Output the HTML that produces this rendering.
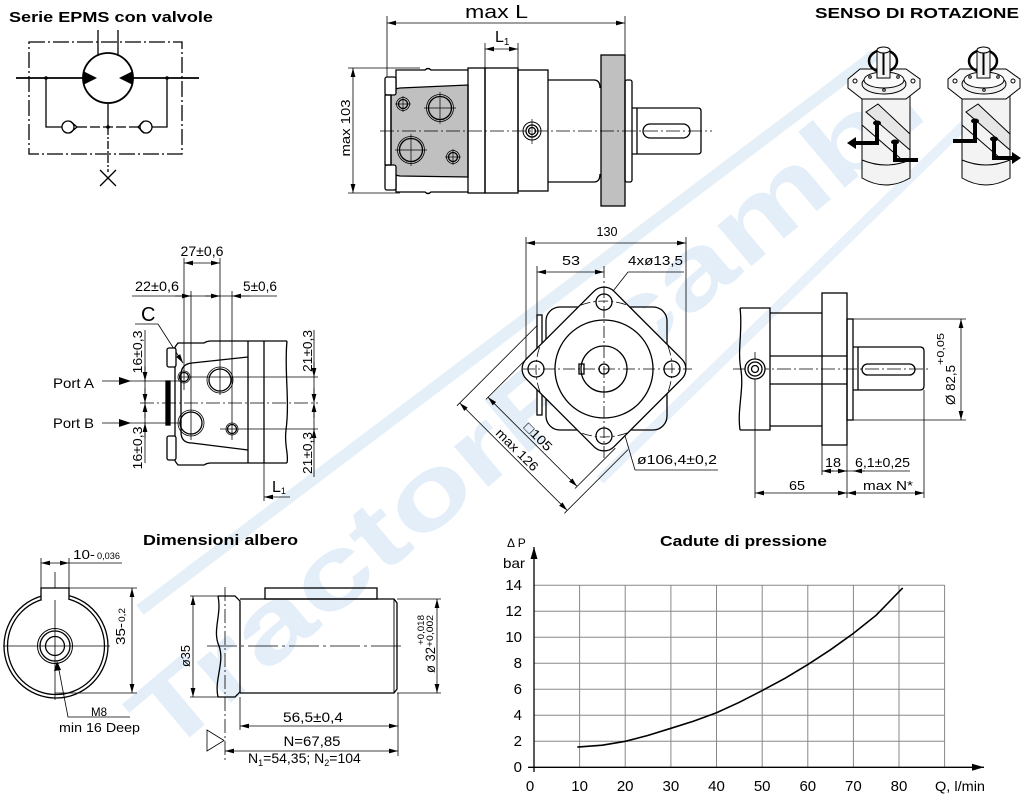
<!DOCTYPE html>
<html><head><meta charset="utf-8"><style>
html,body{margin:0;padding:0;background:#fff;}
svg{display:block;}
text{font-family:"Liberation Sans",sans-serif;fill:#000;}
</style></head><body>
<svg width="1024" height="798" viewBox="0 0 1024 798" xmlns="http://www.w3.org/2000/svg">
<defs>
<marker id="a" markerUnits="userSpaceOnUse" markerWidth="9" markerHeight="6" refX="9" refY="3" orient="auto-start-reverse"><path d="M0,0.6 L9,3 L0,5.4z" fill="#000"/></marker>
<marker id="b" markerUnits="userSpaceOnUse" markerWidth="12" markerHeight="8" refX="12" refY="4" orient="auto"><path d="M0,0.5 L12,4 L0,7.5z" fill="#000"/></marker>
</defs>
<rect width="1024" height="798" fill="#fff"/>

<!-- watermark -->
<g opacity="0.9">
<line x1="140" y1="610" x2="875" y2="55" stroke="#e2eef8" stroke-width="12"/>
<line x1="600" y1="480" x2="1000" y2="90" stroke="#e6f0f9" stroke-width="10"/>
<text transform="translate(165,758) rotate(-40)" font-size="100" font-weight="bold" textLength="1000" lengthAdjust="spacingAndGlyphs" style="fill:#e0edf8">TractorRicambi</text>
</g>

<!-- ===== Titles ===== -->
<text x="9" y="22" font-size="15" font-weight="bold" textLength="204" lengthAdjust="spacingAndGlyphs">Serie EPMS con valvole</text>
<text x="815" y="18" font-size="15" font-weight="bold" textLength="204" lengthAdjust="spacingAndGlyphs">SENSO DI ROTAZIONE</text>
<text x="143" y="545" font-size="15" font-weight="bold" textLength="155" lengthAdjust="spacingAndGlyphs">Dimensioni albero</text>
<text x="660" y="546" font-size="15" font-weight="bold" textLength="167" lengthAdjust="spacingAndGlyphs">Cadute di pressione</text>

<!-- ===== Valve schematic ===== -->
<g stroke="#000" stroke-width="1.3" fill="none">
<rect x="29" y="42" width="153" height="112" stroke-dasharray="16,3,2,3"/>
<line x1="98" y1="30" x2="98" y2="56"/>
<line x1="118" y1="30" x2="118" y2="56"/>
<circle cx="108" cy="78" r="25" stroke-width="1.8"/>
<line x1="16" y1="78" x2="83" y2="78" stroke-width="1.8"/>
<line x1="133" y1="78" x2="199" y2="78" stroke-width="1.8"/>
<polyline points="46,78 46,127 62,127"/>
<circle cx="68" cy="127" r="6"/>
<polyline points="70,121 77,127 70,133"/>
<line x1="77" y1="127" x2="139" y2="127" stroke-dasharray="10,3"/>
<circle cx="146" cy="127" r="6"/>
<polyline points="144,121 138,127 144,133"/>
<polyline points="152,127 167,127 167,78"/>
<line x1="108" y1="103" x2="108" y2="127"/>
<line x1="108" y1="127" x2="108" y2="172" stroke-dasharray="8,2,2,2"/>
<path d="M100,170 L116,186 M116,170 L100,186"/>
</g>
<g fill="#000">
<polygon points="83,71 97,78 83,85"/>
<polygon points="133,71 119,78 133,85"/>
<circle cx="46" cy="78" r="1.8"/><circle cx="167" cy="78" r="1.8"/><circle cx="108" cy="127" r="1.8"/>
</g>

<!-- ===== Top side view ===== -->
<g stroke="#000" stroke-width="0.8" fill="none">
<line x1="387" y1="16" x2="387" y2="80"/>
<line x1="625" y1="16" x2="625" y2="56"/>
<line x1="387" y1="23" x2="625" y2="23" marker-start="url(#a)" marker-end="url(#a)"/>
<line x1="485" y1="43" x2="485" y2="68"/>
<line x1="518" y1="43" x2="518" y2="68"/>
<line x1="485" y1="49" x2="518" y2="49" marker-start="url(#a)" marker-end="url(#a)"/>
<line x1="348" y1="68" x2="420" y2="68"/>
<line x1="348" y1="193" x2="400" y2="193"/>
<line x1="353" y1="68" x2="353" y2="193" marker-start="url(#a)" marker-end="url(#a)"/>
</g>
<text x="465" y="18" font-size="18" textLength="63" lengthAdjust="spacingAndGlyphs">max L</text>
<text x="495" y="42" font-size="16">L<tspan font-size="10" dy="3">1</tspan></text>
<text transform="translate(350,128) rotate(-90)" font-size="13" text-anchor="middle" textLength="57" lengthAdjust="spacingAndGlyphs">max 103</text>
<g stroke="#000" stroke-width="1.3" fill="none">
<path d="M391,97 Q391,89 400,88 L468,85 L468,177 L400,176 Q391,175 391,168 Z" fill="#c0c0c0"/>
<path d="M396,88 L396,70 L425,70 Q428,67 431,70 L468,70"/>
<path d="M396,176 L396,192 L425,192 Q428,195 431,192 L468,192"/>
<rect x="385" y="77" width="11" height="18" rx="2" fill="#fff"/>
<rect x="385" y="165" width="11" height="25" rx="2" fill="#fff"/>
<rect x="385" y="95" width="6" height="70"/>
<rect x="468" y="68" width="17" height="125"/>
<rect x="485" y="68" width="33" height="125"/>
<rect x="518" y="70" width="30" height="121"/>
<path d="M548,80 H594 Q600,80 600,88"/>
<path d="M548,182 H594 Q600,182 600,174"/>
<rect x="601" y="55" width="24" height="151" fill="#c0c0c0"/>
<rect x="625" y="80" width="7" height="102" rx="2"/>
<path d="M632,108 H698 Q701,108 701,111 V151 Q701,154 698,154 H632"/>
<line x1="637" y1="108" x2="637" y2="154"/>
<rect x="643" y="124" width="47" height="14" rx="7"/>
<circle cx="403" cy="104" r="4.5"/><circle cx="403" cy="104" r="6.5" stroke-width="0.8"/>
<circle cx="440" cy="108" r="11.5"/><circle cx="440" cy="108" r="13.5" stroke-width="0.8"/>
<circle cx="411" cy="150" r="11.5"/><circle cx="411" cy="150" r="13.5" stroke-width="0.8"/>
<circle cx="453" cy="157" r="4.5"/><circle cx="453" cy="157" r="6.5" stroke-width="0.8"/>
<circle cx="532" cy="131" r="9" stroke-width="1"/><circle cx="532" cy="131" r="6"/><circle cx="532" cy="131" r="3.5"/>
</g>
<g stroke="#000" stroke-width="0.7">
<line x1="395" y1="104" x2="411" y2="104"/><line x1="403" y1="96" x2="403" y2="112"/>
<line x1="424" y1="108" x2="456" y2="108"/><line x1="440" y1="92" x2="440" y2="124"/>
<line x1="395" y1="150" x2="427" y2="150"/><line x1="411" y1="134" x2="411" y2="166"/>
<line x1="445" y1="157" x2="461" y2="157"/><line x1="453" y1="149" x2="453" y2="165"/>
<line x1="532" y1="119" x2="532" y2="144"/>
<line x1="380" y1="131" x2="712" y2="131" stroke-dasharray="14,3,2,3"/>
</g>

<!-- ===== Rotation pictures ===== -->
<g id="mot" stroke="#000" stroke-width="1">
<path d="M862,96 L862,178 Q886,192 910,178 L910,96 Z" fill="#f3f3f3"/>
<path d="M862,160 Q886,170 910,160" fill="none"/>
<path d="M866,112 L878,104 L910,134 L910,150 Z" fill="#e6e6e6"/>
<path d="M862,125 L900,158" fill="none"/>
<polygon points="848,79 860,69 906,69 920,79 920,88 906,99 862,99 848,88" fill="#f8f8f8"/>
<ellipse cx="884" cy="84" rx="22" ry="10" fill="#f0f0f0"/>
<ellipse cx="884" cy="80" rx="20" ry="8" fill="#fafafa"/>
<circle cx="855" cy="81" r="2" fill="#fff"/><circle cx="913" cy="81" r="2" fill="#fff"/>
<circle cx="870" cy="77" r="1.3" fill="#fff"/><circle cx="898" cy="77" r="1.3" fill="#fff"/><circle cx="884" cy="90" r="1.3" fill="#fff"/>
<ellipse cx="883" cy="61" rx="14" ry="11" fill="none" stroke-width="2.5"/>
<rect x="877" y="50" width="13" height="28" fill="#f4f4f4"/>
<ellipse cx="883.5" cy="50" rx="6.5" ry="3" fill="#fafafa"/>
<line x1="883.5" y1="53" x2="883.5" y2="75" stroke-width="2"/>
</g>
<use href="#mot" x="100" y="0"/>
<g stroke="#000" stroke-width="4" fill="none">
<path d="M877,124 V143 H855"/>
<path d="M895,144 V160 H918"/>
<path d="M975,122 V141 H953"/>
<path d="M994,140 V158 H1014"/>
</g>
<g fill="#000">
<polygon points="847,143 856,137 856,149"/>
<polygon points="1021,158 1012,152 1012,164"/>
<ellipse cx="877" cy="123" rx="4" ry="2.5"/><ellipse cx="895" cy="142" rx="4" ry="2.5"/>
<ellipse cx="975" cy="121" rx="4" ry="2.5"/><ellipse cx="994" cy="139" rx="4" ry="2.5"/>
</g>

<!-- ===== Side view with ports ===== -->
<g stroke="#000" stroke-width="0.8" fill="none">
<line x1="184" y1="258" x2="184" y2="390"/>
<line x1="220" y1="258" x2="220" y2="395"/>
<line x1="184" y1="263" x2="220" y2="263" marker-start="url(#a)" marker-end="url(#a)"/>
<line x1="132" y1="296" x2="277" y2="296"/>
<line x1="175" y1="296" x2="191" y2="296" marker-end="url(#a)"/>
<line x1="205" y1="296" x2="220" y2="296" marker-end="url(#a)"/>
<line x1="250" y1="296" x2="232" y2="296" marker-end="url(#a)"/>
<line x1="191" y1="291" x2="191" y2="440"/>
<line x1="232" y1="291" x2="232" y2="440"/>
<line x1="135" y1="324" x2="158" y2="324"/>
<line x1="158" y1="324" x2="183" y2="363" marker-end="url(#a)"/>
<line x1="180" y1="377" x2="318" y2="377"/>
<line x1="220" y1="429" x2="318" y2="429"/>
<line x1="140" y1="403" x2="318" y2="403" stroke-dasharray="14,3,2,3"/>
<line x1="314" y1="330" x2="314" y2="477"/>
<line x1="314" y1="362" x2="314" y2="377" marker-end="url(#a)"/>
<line x1="314" y1="418" x2="314" y2="403" marker-end="url(#a)"/>
<line x1="314" y1="388" x2="314" y2="403" marker-end="url(#a)"/>
<line x1="314" y1="444" x2="314" y2="429" marker-end="url(#a)"/>
<line x1="145" y1="330" x2="145" y2="463"/>
<line x1="145" y1="366" x2="145" y2="381" marker-end="url(#a)"/>
<line x1="145" y1="418" x2="145" y2="403" marker-end="url(#a)"/>
<line x1="145" y1="388" x2="145" y2="403" marker-end="url(#a)"/>
<line x1="145" y1="438" x2="145" y2="423" marker-end="url(#a)"/>
<line x1="102" y1="381" x2="180" y2="381"/>
<line x1="102" y1="423" x2="180" y2="423"/>
<line x1="264" y1="463" x2="264" y2="501"/>
<line x1="290" y1="497" x2="264" y2="497" marker-end="url(#a)"/>
</g>
<g fill="#000">
<polygon points="131,381 119,377 119,385"/>
<polygon points="131,423 119,419 119,427"/>
</g>
<g stroke="#000" stroke-width="1.3" fill="none">
<path d="M175,347 L178,343 L204,343 Q207,341 211,341 L287,341"/>
<path d="M175,461 L178,465 L204,465 Q207,463 211,463 L287,463"/>
<line x1="175" y1="347" x2="175" y2="461"/>
<path d="M287,341 C284,370 290,400 286,430 C284,445 289,455 287,463"/>
<line x1="248" y1="341" x2="248" y2="463"/>
<line x1="264" y1="341" x2="264" y2="463"/>
<path d="M248,357 L192,363 Q181,364 181,375 L181,432 Q181,443 192,443 L248,450"/>
<rect x="166" y="381" width="4" height="44" fill="#000"/>
<rect x="167" y="348" width="9" height="19" rx="2" fill="#fff"/>
<rect x="167" y="436" width="9" height="24" rx="2" fill="#fff"/>
<circle cx="184" cy="377" r="4.5"/><circle cx="184" cy="377" r="6" stroke-width="0.8"/>
<circle cx="220" cy="380" r="11"/><circle cx="220" cy="380" r="13" stroke-width="0.8"/>
<circle cx="191" cy="423" r="11"/><circle cx="191" cy="423" r="13" stroke-width="0.8"/>
<circle cx="232" cy="429" r="4.5"/><circle cx="232" cy="429" r="6" stroke-width="0.8"/>
</g>
<text x="202" y="256" font-size="14" text-anchor="middle" textLength="43" lengthAdjust="spacingAndGlyphs">27±0,6</text>
<text x="157" y="291" font-size="14" text-anchor="middle" textLength="44" lengthAdjust="spacingAndGlyphs">22±0,6</text>
<text x="260" y="291" font-size="14" text-anchor="middle" textLength="34" lengthAdjust="spacingAndGlyphs">5±0,6</text>
<text x="141" y="321" font-size="20">C</text>
<text x="53" y="388" font-size="14" textLength="41" lengthAdjust="spacingAndGlyphs">Port A</text>
<text x="53" y="428" font-size="14" textLength="41" lengthAdjust="spacingAndGlyphs">Port B</text>
<text transform="translate(142,352) rotate(-90)" font-size="13" text-anchor="middle" textLength="43" lengthAdjust="spacingAndGlyphs">16±0,3</text>
<text transform="translate(142,448) rotate(-90)" font-size="13" text-anchor="middle" textLength="43" lengthAdjust="spacingAndGlyphs">16±0,3</text>
<text transform="translate(312,351) rotate(-90)" font-size="13" text-anchor="middle" textLength="42" lengthAdjust="spacingAndGlyphs">21±0,3</text>
<text transform="translate(312,453) rotate(-90)" font-size="13" text-anchor="middle" textLength="42" lengthAdjust="spacingAndGlyphs">21±0,3</text>
<text x="272" y="492" font-size="16">L<tspan font-size="9" dy="2">1</tspan></text>

<!-- ===== Front view ===== -->
<g stroke="#000" stroke-width="0.8" fill="none">
<line x1="526" y1="237" x2="526" y2="369"/>
<line x1="686" y1="237" x2="686" y2="369"/>
<line x1="526" y1="243" x2="686" y2="243" marker-start="url(#a)" marker-end="url(#a)"/>
<line x1="537" y1="266" x2="537" y2="415"/>
<line x1="537" y1="272" x2="604" y2="272" marker-start="url(#a)" marker-end="url(#a)"/>
<line x1="628" y1="272" x2="684" y2="272"/>
<line x1="628" y1="272" x2="596" y2="313" marker-end="url(#a)"/>
<line x1="587" y1="305" x2="635" y2="470"/>
<line x1="598" y1="343" x2="589" y2="311" marker-end="url(#a)"/>
<line x1="613" y1="398" x2="622" y2="430" marker-end="url(#a)"/>
<line x1="635" y1="470" x2="718" y2="470"/>
<line x1="485.9" y1="399.4" x2="526.2" y2="359.1"/>
<line x1="575" y1="488.5" x2="615.3" y2="448.2"/>
<line x1="456.9" y1="405.8" x2="541.8" y2="320.9"/>
<line x1="564.4" y1="513.3" x2="628" y2="449.6"/>
<line x1="488" y1="397.3" x2="577.1" y2="486.4" marker-start="url(#a)" marker-end="url(#a)"/>
<line x1="459.7" y1="403" x2="567.2" y2="510.4" marker-start="url(#a)" marker-end="url(#a)"/>
</g>
<g stroke="#000" stroke-width="1.3" fill="none">
<rect x="546" y="307" width="121" height="123" rx="14"/>
<rect x="537" y="315" width="5" height="100" fill="#fff"/>
<rect x="-62" y="-62" width="124" height="124" rx="14" transform="translate(604,369) rotate(45)" fill="#fff"/>
<circle cx="604" cy="369" r="49"/>
<circle cx="604" cy="369" r="23"/>
<circle cx="604" cy="369" r="5"/>
<rect x="579" y="364" width="5" height="10"/>
<circle cx="604" cy="302" r="8"/>
<circle cx="604" cy="436" r="8"/>
<circle cx="536" cy="369" r="8"/>
<circle cx="672" cy="369" r="8"/>
</g>
<g stroke="#000" stroke-width="0.8" fill="none">
<path d="M580.7,305.1 A68,68 0 0 1 627.3,305.1 M667.9,345.7 A68,68 0 0 1 667.9,392.3 M627.3,432.9 A68,68 0 0 1 580.7,432.9 M540.1,392.3 A68,68 0 0 1 540.1,345.7" stroke-dasharray="10,3,2,3"/>
<line x1="523" y1="369" x2="692" y2="369" stroke-dasharray="12,3,2,3"/>
<line x1="604" y1="266" x2="604" y2="460" stroke-dasharray="12,3,2,3"/>
</g>
<text x="607" y="236" font-size="13" text-anchor="middle" textLength="21" lengthAdjust="spacingAndGlyphs">130</text>
<text x="571" y="265" font-size="13" text-anchor="middle" textLength="18" lengthAdjust="spacingAndGlyphs">53</text>
<text x="628" y="265" font-size="13" textLength="55" lengthAdjust="spacingAndGlyphs">4xø13,5</text>
<text x="637" y="464" font-size="13" textLength="80" lengthAdjust="spacingAndGlyphs">ø106,4±0,2</text>
<text transform="translate(535,440) rotate(45)" font-size="13" text-anchor="middle" textLength="34" lengthAdjust="spacingAndGlyphs">□105</text>
<text transform="translate(514,453) rotate(45)" font-size="13" text-anchor="middle" textLength="54" lengthAdjust="spacingAndGlyphs">max 126</text>

<!-- ===== Right side view ===== -->
<g stroke="#000" stroke-width="0.8" fill="none">
<line x1="853" y1="319" x2="966" y2="319"/>
<line x1="853" y1="420" x2="966" y2="420"/>
<line x1="961" y1="319" x2="961" y2="420" marker-start="url(#a)" marker-end="url(#a)"/>
<line x1="822" y1="445" x2="822" y2="475"/>
<line x1="847" y1="445" x2="847" y2="498"/>
<line x1="924" y1="390" x2="924" y2="498"/>
<line x1="755" y1="352" x2="755" y2="498"/>
<line x1="822" y1="471" x2="910" y2="471"/>
<line x1="834" y1="471" x2="822" y2="471" marker-end="url(#a)"/>
<line x1="836" y1="471" x2="847" y2="471" marker-end="url(#a)"/>
<line x1="865" y1="471" x2="853" y2="471" marker-end="url(#a)"/>
<line x1="755" y1="493" x2="847" y2="493" marker-start="url(#a)" marker-end="url(#a)"/>
<line x1="847" y1="493" x2="924" y2="493" marker-start="url(#a)" marker-end="url(#a)"/>
<line x1="733" y1="369" x2="930" y2="369" stroke-dasharray="14,3,2,3"/>
</g>
<g stroke="#000" stroke-width="1.3" fill="none">
<path d="M740,308 C743,330 737,350 741,370 C744,390 737,410 740,430"/>
<path d="M740,308 H770 V430 H740"/>
<path d="M770,313 H822 M770,426 H822"/>
<line x1="770" y1="356" x2="847" y2="356"/>
<line x1="770" y1="384" x2="847" y2="384"/>
<rect x="822" y="293" width="25" height="152"/>
<rect x="847" y="319" width="6" height="101"/>
<path d="M853,347 H920 Q924,347 924,351 V386 Q924,390 920,390 H853"/>
<line x1="858" y1="347" x2="858" y2="390"/>
<rect x="862" y="364" width="53" height="11" rx="5.5"/>
<circle cx="755" cy="369" r="10" fill="#fff"/><circle cx="755" cy="369" r="7"/><circle cx="755" cy="369" r="3.5"/>
</g>
<text x="833" y="467" font-size="13" text-anchor="middle" textLength="16" lengthAdjust="spacingAndGlyphs">18</text>
<text x="855" y="467" font-size="13" textLength="55" lengthAdjust="spacingAndGlyphs">6,1±0,25</text>
<text x="797" y="490" font-size="13" text-anchor="middle" textLength="16" lengthAdjust="spacingAndGlyphs">65</text>
<text x="888" y="490" font-size="13" text-anchor="middle" textLength="50" lengthAdjust="spacingAndGlyphs">max N*</text>
<text transform="translate(955,405) rotate(-90)" font-size="13" textLength="40" lengthAdjust="spacingAndGlyphs">Ø 82,5</text>
<text transform="translate(944,365) rotate(-90)" font-size="10" textLength="32" lengthAdjust="spacingAndGlyphs">+0,05</text>

<!-- ===== Shaft end view ===== -->
<g stroke="#000" stroke-width="0.8" fill="none">
<line x1="41" y1="558" x2="41" y2="590"/>
<line x1="69" y1="558" x2="69" y2="590"/>
<line x1="41" y1="563" x2="69" y2="563" marker-start="url(#a)" marker-end="url(#a)"/>
<line x1="69" y1="563" x2="122" y2="563"/>
<line x1="69" y1="588" x2="137" y2="588"/>
<line x1="55" y1="693" x2="137" y2="693"/>
<line x1="132" y1="588" x2="132" y2="693" marker-start="url(#a)" marker-end="url(#a)"/>
<line x1="3" y1="646" x2="110" y2="646"/>
<line x1="55" y1="572" x2="55" y2="700"/>
<polyline points="130,717 68,717 58,665"/>
</g>
<polygon points="57,661 54,671 61,670" fill="#000"/>
<g stroke="#000" stroke-width="1.3" fill="none">
<circle cx="56" cy="646" r="52"/>
<circle cx="56" cy="646" r="48.5"/>
<path d="M41,600 V588 H69 V600" fill="#fff"/>
<circle cx="55" cy="646" r="17.5" stroke-width="1"/>
<circle cx="55" cy="646" r="15"/>
<circle cx="55" cy="646" r="9.5"/>
</g>
<text x="73" y="559" font-size="13" textLength="22" lengthAdjust="spacingAndGlyphs">10-</text>
<text x="97" y="559" font-size="9" textLength="23" lengthAdjust="spacingAndGlyphs">0,036</text>
<text transform="translate(125,645) rotate(-90)" font-size="13" textLength="22" lengthAdjust="spacingAndGlyphs">35-</text>
<text transform="translate(125,622) rotate(-90)" font-size="9" textLength="14" lengthAdjust="spacingAndGlyphs">0,2</text>
<text x="99" y="716" font-size="12" text-anchor="middle" textLength="16" lengthAdjust="spacingAndGlyphs">M8</text>
<text x="59" y="732" font-size="13" textLength="81" lengthAdjust="spacingAndGlyphs">min 16 Deep</text>

<!-- ===== Shaft side view ===== -->
<g stroke="#000" stroke-width="0.8" fill="none">
<line x1="190" y1="596" x2="218" y2="596"/>
<line x1="190" y1="697" x2="218" y2="697"/>
<line x1="193" y1="596" x2="193" y2="697" marker-start="url(#a)" marker-end="url(#a)"/>
<line x1="397" y1="599" x2="441" y2="599"/>
<line x1="397" y1="693" x2="441" y2="693"/>
<line x1="437" y1="599" x2="437" y2="693" marker-start="url(#a)" marker-end="url(#a)"/>
<line x1="240" y1="697" x2="240" y2="730"/>
<line x1="398" y1="693" x2="398" y2="756"/>
<line x1="240" y1="726" x2="398" y2="726" marker-start="url(#a)" marker-end="url(#a)"/>
<line x1="225" y1="751" x2="398" y2="751" marker-start="url(#a)" marker-end="url(#a)"/>
<polygon points="207,730 224,740.5 207,751"/>
<line x1="207" y1="646" x2="402" y2="646" stroke-dasharray="30,4,3,4"/>
<line x1="225" y1="587" x2="225" y2="762" stroke-dasharray="14,3,2,3"/>
</g>
<g stroke="#000" stroke-width="1.3" fill="none">
<path d="M218,596 H235 L240,601 V692 L235,697 H218"/>
<path d="M218,596 C222,615 212,630 219,646 C225,662 214,680 218,697"/>
<path d="M240,599 H394 L397,603 V689 L394,693 H240"/>
<line x1="394" y1="599" x2="394" y2="693" stroke-width="0.9"/>
<rect x="265" y="588" width="112" height="11"/>
</g>
<text transform="translate(190,656) rotate(-90)" font-size="13" text-anchor="middle" textLength="22" lengthAdjust="spacingAndGlyphs">ø35</text>
<text transform="translate(435,660) rotate(-90)" font-size="14" text-anchor="middle" textLength="26" lengthAdjust="spacingAndGlyphs">ø 32</text>
<text transform="translate(433,647) rotate(-90)" font-size="9" textLength="32" lengthAdjust="spacingAndGlyphs">+0,002</text>
<text transform="translate(424,645) rotate(-90)" font-size="9" textLength="30" lengthAdjust="spacingAndGlyphs">+0,018</text>
<text x="313" y="722" font-size="14" text-anchor="middle" textLength="60" lengthAdjust="spacingAndGlyphs">56,5±0,4</text>
<text x="312" y="746" font-size="14" text-anchor="middle" textLength="57" lengthAdjust="spacingAndGlyphs">N=67,85</text>
<text x="248" y="763" font-size="14">N<tspan font-size="9" dy="3">1</tspan><tspan dy="-3">=54,35;  N</tspan><tspan font-size="9" dy="3">2</tspan><tspan dy="-3">=104</tspan></text>

<!-- ===== Chart ===== -->
<g stroke="#888" stroke-width="1">
<line x1="579.6" y1="585" x2="579.6" y2="767"/>
<line x1="625.2" y1="585" x2="625.2" y2="767"/>
<line x1="670.9" y1="585" x2="670.9" y2="767"/>
<line x1="716.5" y1="585" x2="716.5" y2="767"/>
<line x1="762.2" y1="585" x2="762.2" y2="767"/>
<line x1="807.8" y1="585" x2="807.8" y2="767"/>
<line x1="853.4" y1="585" x2="853.4" y2="767"/>
<line x1="899" y1="585" x2="899" y2="767"/>
<line x1="944.6" y1="585" x2="944.6" y2="767"/>
<line x1="534" y1="585.3" x2="944.6" y2="585.3"/>
<line x1="534" y1="611.3" x2="944.6" y2="611.3"/>
<line x1="534" y1="637.3" x2="944.6" y2="637.3"/>
<line x1="534" y1="663.3" x2="944.6" y2="663.3"/>
<line x1="534" y1="689.3" x2="944.6" y2="689.3"/>
<line x1="534" y1="715.3" x2="944.6" y2="715.3"/>
<line x1="534" y1="741.3" x2="944.6" y2="741.3"/>
</g>
<g stroke="#000" stroke-width="1.3" fill="none">
<line x1="528" y1="767.3" x2="984" y2="767.3" marker-end="url(#b)"/>
<line x1="534" y1="772" x2="534" y2="547" marker-end="url(#b)"/>
<polyline stroke-width="1.6" points="577.3,747.1 602.4,745.2 625.3,741.3 648.1,735.4 670.9,728.3 693.7,721.1 716.5,712.7 739.3,702.3 762.2,690.6 785,678.3 807.8,664.6 830.6,649.7 853.4,633.4 876.2,615.2 902.7,587.9"/>
</g>
<g font-size="15" text-anchor="end">
<text x="522" y="590">14</text>
<text x="522" y="616">12</text>
<text x="522" y="642">10</text>
<text x="522" y="668">8</text>
<text x="522" y="694">6</text>
<text x="522" y="720">4</text>
<text x="522" y="746">2</text>
<text x="522" y="772">0</text>
</g>
<g font-size="15" text-anchor="middle">
<text x="530" y="791">0</text>
<text x="579.6" y="791">10</text>
<text x="625.2" y="791">20</text>
<text x="670.9" y="791">30</text>
<text x="716.5" y="791">40</text>
<text x="762.2" y="791">50</text>
<text x="807.8" y="791">60</text>
<text x="853.4" y="791">70</text>
<text x="899" y="791">80</text>
</g>
<text x="935" y="791" font-size="14" textLength="50" lengthAdjust="spacingAndGlyphs">Q, l/min</text>
<text x="507" y="547" font-size="12">Δ P</text>
<text x="503" y="568" font-size="14" textLength="22" lengthAdjust="spacingAndGlyphs">bar</text>
</svg>
</body></html>
